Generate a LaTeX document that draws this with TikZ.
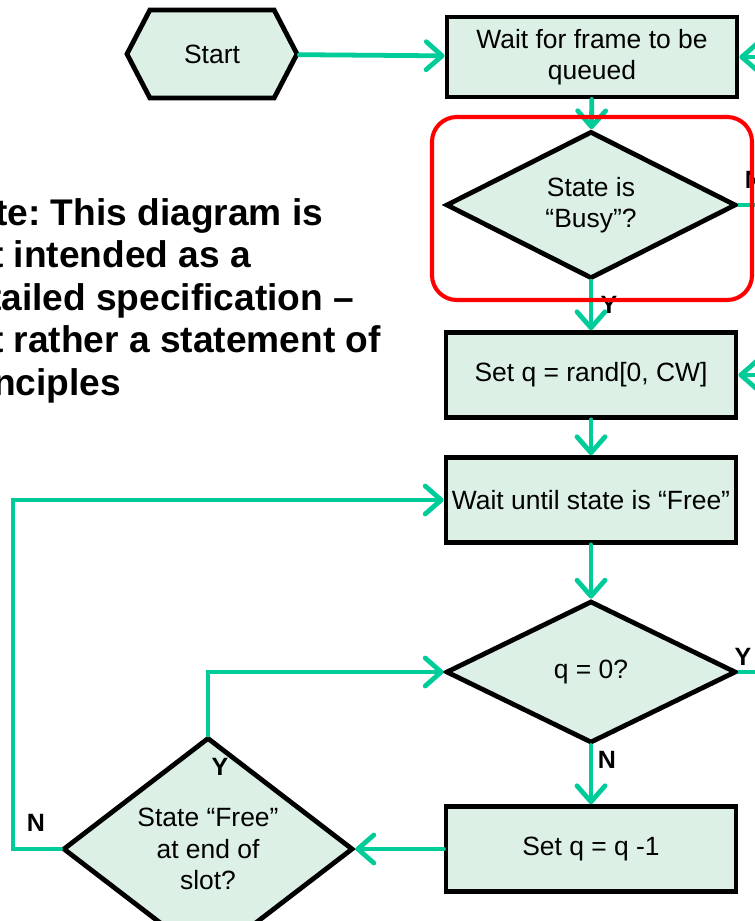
\documentclass[tikz,border=0pt]{standalone}
\usepackage{fontspec}
\setmainfont{Liberation Sans}
\usetikzlibrary{shapes.geometric,shapes.symbols,arrows.meta}
\definecolor{flowG}{HTML}{00CC99}
\definecolor{boxF}{HTML}{DCF0E6}
\definecolor{hiR}{HTML}{FF0000}
\frenchspacing

\begin{document}
\begin{tikzpicture}[x=0.025cm, y=-0.025cm,
  box/.style={draw=black, fill=boxF, line width=3.4pt, inner sep=0pt,
    minimum width=7.25cm, minimum height=2.12cm, align=center,
    font=\fontsize{18.8}{22.5}\selectfont},
  decide/.style={box, diamond, minimum height=3.58cm},
  flow/.style={draw=flowG, line width=3.4pt, line cap=round,
    -{Straight Barb[length=0.4cm, width=0.7cm, round]}},
  link/.style={draw=flowG, line width=3.4pt},
  yn/.style={font=\fontsize{17.8}{20}\bfseries\selectfont, inner sep=0pt}]
  \clip (0,0) rectangle (755,921);

  % ---- note on the left (runs off the page) ----
  \node[font=\fontsize{26.4}{30.2}\bfseries\selectfont, align=left,
    anchor=north west, inner sep=0pt] (note) at (-54.5,198)
    {Note: This diagram is\\not intended as a\\detailed specification –\\but rather a statement of\\principles};

  % ---- shapes ----
  \node[box, signal, signal to=east and west, signal pointer angle=125,
    minimum width=4.25cm, minimum height=2.2cm] (start) at (212,54) {Start};
  \node[box, minimum height=2cm] (wait) at (592,57) {Wait for frame to be\\queued};
  \node[decide] (busy) at (591,205) {State is\\“Busy”?};
  \node[box] (setq) at (591,375) {Set q = rand[0, CW]};
  \node[box] (waitfree) at (591,500) {Wait until state is “Free”};
  \node[decide, minimum height=3.55cm] (qzero) at (591,672) {q = 0?};
  \node[box] (setdec) at (591,849) {Set q = q -1};
  \node[decide, minimum height=3.55cm] (free) at (208,849) {State “Free”\\at end of\\slot?};

  % ---- loose ends (off the right edge) ----
  \coordinate (fbwait) at (800,57);
  \coordinate (fbsetq) at (800,375);
  \coordinate (busyout) at (800,205);
  \coordinate (qout) at (800,672);
  \coordinate (loopl) at (13,500);

  % ---- connectors ----
  \draw[flow] (start) -- (wait);
  \draw[flow] (fbwait) -- (wait.east);
  \draw[flow] (wait) -- (busy);
  \draw[link] (busy.east) -- (busyout);
  \draw[flow] (busy) -- (setq);
  \draw[flow] (fbsetq) -- (setq.east);
  \draw[flow] (setq) -- (waitfree);
  \draw[flow] (waitfree) -- (qzero);
  \draw[link] (qzero.east) -- (qout);
  \draw[flow] (qzero) -- (setdec);
  \draw[flow] (setdec) -- (free);
  \draw[flow] (free.north) |- (qzero.west);
  \draw[flow] (free.west) -| (loopl) -- (waitfree.west);

  % ---- Y / N labels ----
  \node[yn] (busyN) at (754,180) {N};
  \node[yn] (busyY) at (609,305) {Y};
  \node[yn] (qY) at (743,657) {Y};
  \node[yn] (qN) at (607,760) {N};
  \node[yn] (freeY) at (220,767) {Y};
  \node[yn] (freeN) at (36,823) {N};

  % ---- red highlight ----
  \draw[hiR, line width=2.9pt, rounded corners=0.62cm] (432,117) rectangle (752,300);
\end{tikzpicture}
\end{document}
